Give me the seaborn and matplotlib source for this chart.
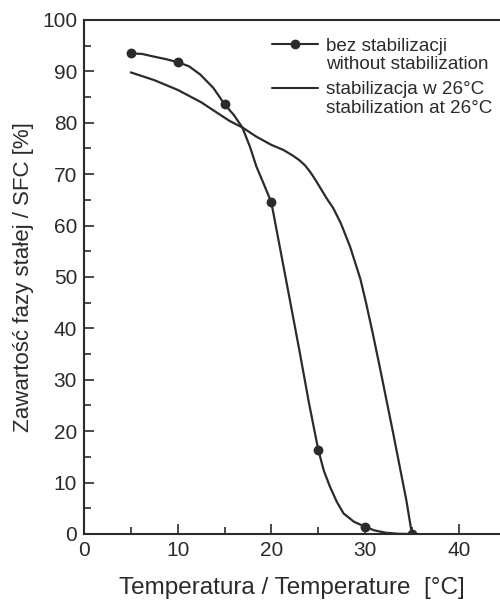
import matplotlib
matplotlib.use("Agg")
import matplotlib.pyplot as plt
from matplotlib.lines import Line2D
from matplotlib.ticker import MultipleLocator
import seaborn as sns

# measured points, sample without stabilization
temp_points = [5, 10, 15, 20, 25, 30, 35]
sfc_points = [93.5, 91.8, 83.6, 64.5, 16.4, 1.4, 0.0]

# curve drawn through those points
temp_no_stab = [5, 6.2, 7.4, 8.7, 10, 11.2, 12.4, 13.8, 15, 16.0, 16.9, 17.7,
                18.4, 19.3, 20, 20.6, 21.3, 22.1, 23.0, 24.0, 25, 25.6, 26.25,
                27.0, 27.7, 28.8, 30, 31, 32.2, 33.5, 35]
sfc_no_stab = [93.5, 93.4, 92.9, 92.4, 91.8, 91.0, 89.4, 86.8, 83.6, 81.5,
               79.1, 75.4, 71.5, 67.6, 64.5, 58.7, 52.0, 44.3, 35.6, 25.6,
               16.4, 12.3, 9.2, 6.2, 4.0, 2.4, 1.4, 0.7, 0.25, 0.05, 0.0]

# sample stabilized at 26 C
temp_stab = [5, 7.5, 10, 12.5, 15, 15.6, 16.9, 18.4, 20.0, 21.3, 22.3, 23.0,
             23.6, 24.2, 24.8, 25.9, 26.6, 27.4, 28.4, 29.5, 30.1, 30.8, 31.6,
             33.0, 34.4, 35]
sfc_stab = [89.8, 88.3, 86.4, 84.0, 81.0, 80.3, 79.1, 77.3, 75.7, 74.7, 73.6,
            72.7, 71.7, 70.3, 68.6, 65.3, 63.4, 60.5, 55.9, 49.6, 45.0, 39.2,
            32.2, 19.6, 6.6, 0.0]

sns.set_style("ticks")
plt.rcParams["font.family"] = ["Liberation Sans", "DejaVu Sans"]

ink = "#2b2b2b"

fig = plt.figure(figsize=(5, 6.04), dpi=100)
ax = fig.add_axes([0.168, 0.1159, 0.832, 0.851])

sns.lineplot(x=temp_no_stab, y=sfc_no_stab, sort=False, estimator=None,
             color=ink, lw=1.6, ax=ax)
sns.lineplot(x=temp_stab, y=sfc_stab, sort=False, estimator=None,
             color=ink, lw=1.6, ax=ax)
sns.scatterplot(x=temp_points, y=sfc_points, color=ink, s=50,
                edgecolor=ink, linewidth=0, zorder=5, ax=ax)

ax.set_xlim(0, 44.4)
ax.set_ylim(0, 100)
ax.xaxis.set_major_locator(MultipleLocator(10))
ax.xaxis.set_minor_locator(MultipleLocator(5))
ax.yaxis.set_major_locator(MultipleLocator(10))
ax.yaxis.set_minor_locator(MultipleLocator(5))
ax.tick_params(which="both", direction="in", color=ink, width=1.2,
               labelsize=15, labelcolor=ink)
ax.tick_params(which="major", length=7, pad=5)
ax.tick_params(which="minor", length=5)
ax.spines["right"].set_visible(False)
for s in ["left", "bottom", "top"]:
    ax.spines[s].set_color(ink)
    ax.spines[s].set_linewidth(1.5)

ax.set_xlabel("Temperatura / Temperature  [°C]", fontsize=17.5,
              color=ink, labelpad=12)
ax.set_ylabel("Zawartość fazy stałej / SFC [%]", fontsize=16, color=ink,
              labelpad=6)

blank = Line2D([], [], color="none")
leg_kw = dict(loc="upper left", frameon=False, fontsize=13.6,
              handlelength=2.45, handletextpad=0.42, labelspacing=0.06,
              borderpad=0, borderaxespad=0, labelcolor=ink)
leg1 = ax.legend([Line2D([], [], color=ink, lw=1.5, marker="o", markersize=6),
                  blank],
                 ["bez stabilizacji", "without stabilization"],
                 bbox_to_anchor=(0.452, 0.966), **leg_kw)
ax.add_artist(leg1)
ax.legend([Line2D([], [], color=ink, lw=1.5), blank],
          ["stabilizacja w 26°C", "stabilization at 26°C"],
          bbox_to_anchor=(0.452, 0.881), **leg_kw)

fig.savefig("out.png", dpi=100, facecolor="white")
